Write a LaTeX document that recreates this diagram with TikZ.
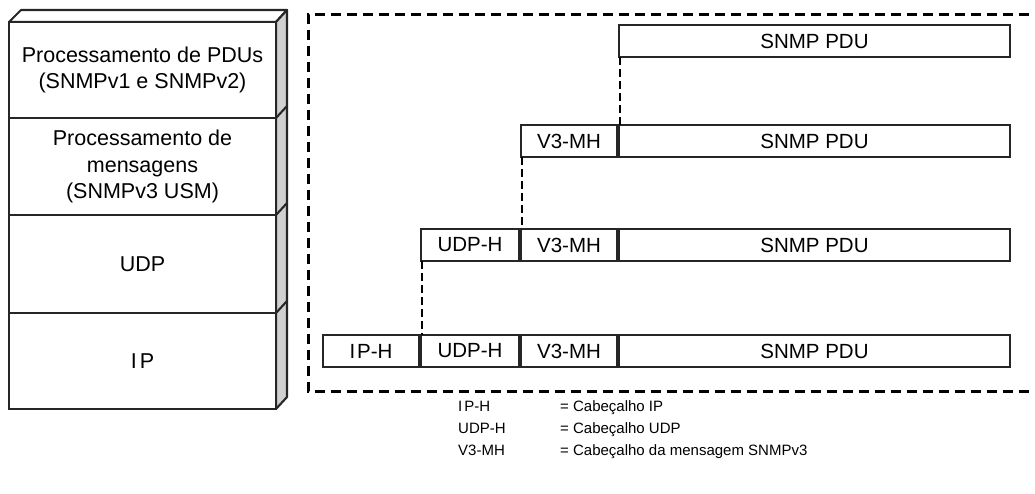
\documentclass[tikz,border=0pt]{standalone}
\usepackage{fontspec}
\setmainfont{Liberation Sans}
\begin{document}
\begin{tikzpicture}[x=1pt,y=-1pt,
  pbox/.style={draw=black!85, line width=2.1pt, fill=white, minimum height=32pt,
    inner sep=0pt, outer sep=0pt, anchor=north west, font=\fontsize{20.5}{24}\selectfont},
  layer/.style={draw=black!85, line width=2.1pt, fill=white, minimum width=267pt,
    inner sep=0pt, outer sep=0pt, anchor=north west, align=center,
    font=\fontsize{21.5}{26.5}\selectfont},
  frame/.style={black, line width=3pt, dash pattern=on 10pt off 6pt},
  conn/.style={black, line width=1.8pt, dash pattern=on 8pt off 4pt},
  legend/.style={anchor=base west, inner sep=0pt, font=\fontsize{15}{17}\selectfont}]
\clip (0,0) rectangle (1035,494);
\fill[white] (0,0) rectangle (1035,494);

% protocol stack (3D)
\draw[draw=black!85, line width=2.1pt, fill=white, line join=round] (9,22) -- (21,10) -- (287,10) -- (276,22) -- cycle;
\draw[draw=black!85, line width=2.1pt, fill=black!18, line join=round] (276,22) -- (287,10) -- (287,397) -- (276,409) -- cycle;
\draw[draw=black!85, line width=2.1pt] (276,118) -- (287,106) (276,215) -- (287,203) (276,313) -- (287,301);
\node[layer, minimum height=96pt] (L1) at (9,22) {Processamento de PDUs\\(SNMPv1 e SNMPv2)};
\node[layer, minimum height=97pt] (L2) at (9,118) {Processamento de\\mensagens\\(SNMPv3 USM)};
\node[layer, minimum height=98pt] (L3) at (9,215) {UDP};
\node[layer, minimum height=96pt] (L4) at (9,313) {I\kern3pt P};

% dashed frame
\draw[frame] (1045,15) -- (308,15) -- (308,391) -- (1045,391);

% packets
\node[pbox, minimum width=391pt] (r1pdu) at (619,25) {SNMP PDU};

\node[pbox, minimum width=96pt] (r2v3) at (521,125) {V3-MH};
\node[pbox, minimum width=391pt] (r2pdu) at (619,125) {SNMP PDU};

\node[pbox, minimum width=98pt] (r3udp) at (421,229) {UDP-H};
\node[pbox, minimum width=96pt] (r3v3) at (521,229) {V3-MH};
\node[pbox, minimum width=391pt] (r3pdu) at (619,229) {SNMP PDU};

\node[pbox, minimum width=96pt] (r4ip) at (323,335) {I\kern2pt P-H};
\node[pbox, minimum width=98pt] (r4udp) at (421,335) {UDP-H};
\node[pbox, minimum width=96pt] (r4v3) at (521,335) {V3-MH};
\node[pbox, minimum width=391pt] (r4pdu) at (619,335) {SNMP PDU};

% connectors
\draw[conn] ([xshift=1pt]r1pdu.south west) -- ([xshift=1pt]r2pdu.north west);
\draw[conn] ([xshift=1pt]r2v3.south west) -- ([xshift=1pt]r3v3.north west);
\draw[conn] ([xshift=1pt]r3udp.south west) -- ([xshift=1pt]r4udp.north west);

% legend
\node[legend] (k1) at (458,411) {I\kern2pt P-H};
\node[legend] (d1) at (560,411) {= Cabeçalho IP};
\node[legend] (k2) at (458,433) {UDP-H};
\node[legend] (d2) at (560,433) {= Cabeçalho UDP};
\node[legend] (k3) at (458,455) {V3-MH};
\node[legend] (d3) at (560,455) {= Cabeçalho da mensagem SNMPv3};
\end{tikzpicture}
\end{document}
